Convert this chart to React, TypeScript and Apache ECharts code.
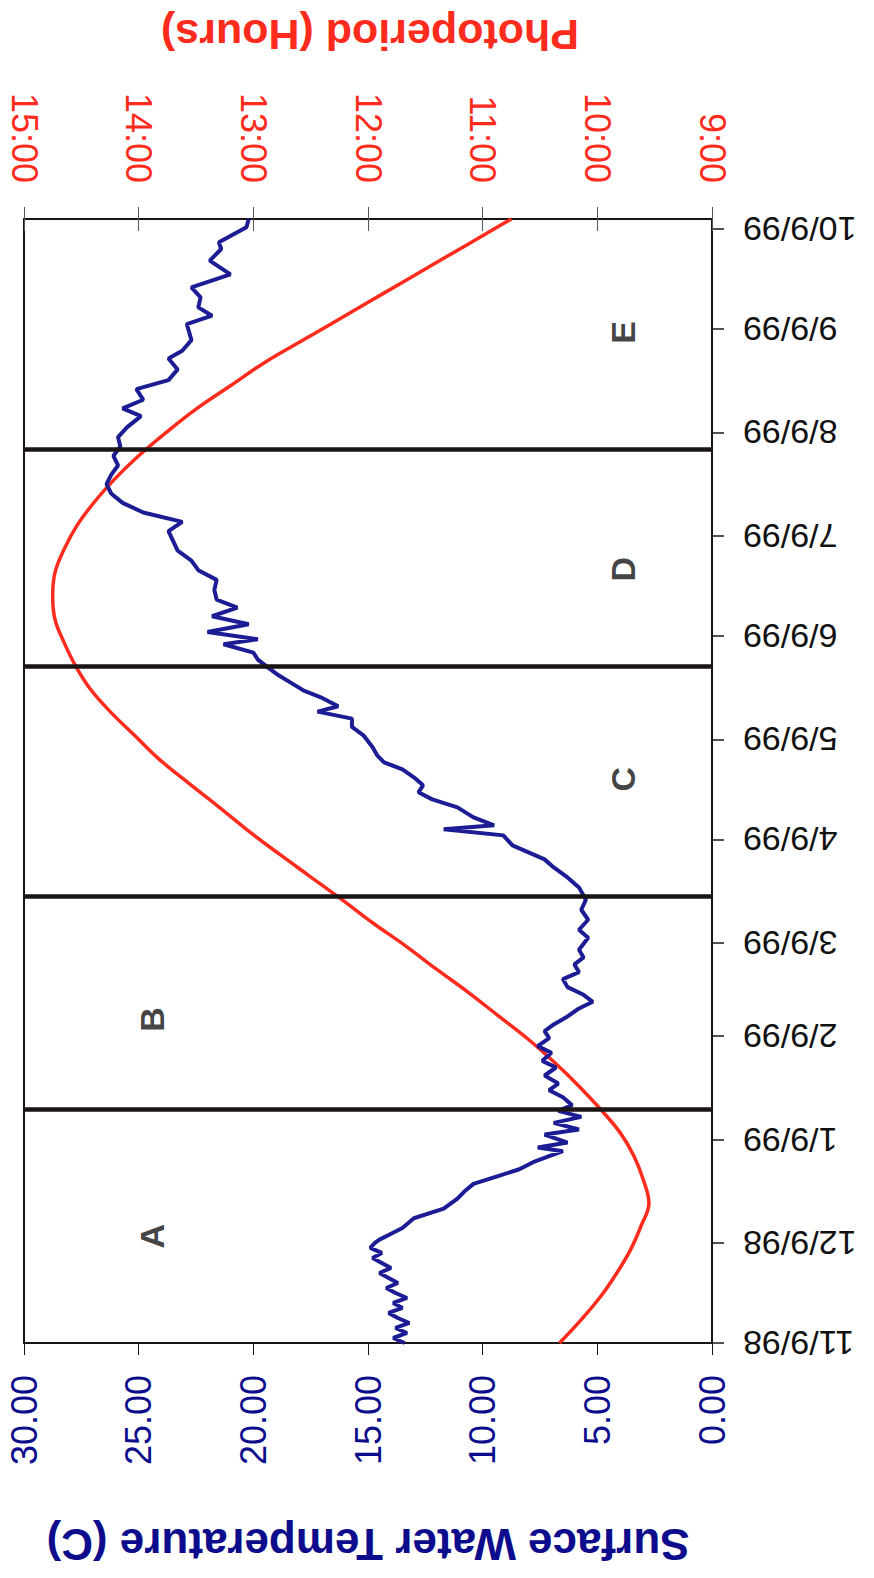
import React, { useEffect, useRef } from "react";
import * as echarts from "echarts";

// Date axis: days counted from 11/9/98, ticks on the 9th of every month
const DATE_TICK_DAYS = [0, 30, 61, 92, 120, 151, 181, 212, 242, 273, 304, 334];
const DATE_TICK_LABELS = [
  "11/9/98", "12/9/98", "1/9/99", "2/9/99", "3/9/99", "4/9/99",
  "5/9/99", "6/9/99", "7/9/99", "8/9/99", "9/9/99", "10/9/99",
];
const LAST_DAY = 337;

// Period boundaries (days) and period letters
const PERIOD_BOUNDARY_DAYS = [70, 134, 203, 268];
const PERIOD_LETTERS = ["A", "B", "C", "D", "E"];
const LETTER_DAYS = [32, 97, 169, 232, 303];
const LETTER_TEMPS = [24.4, 24.4, 3.9, 3.9, 3.9];

// Surface water temperature (C)
const TEMP_DAYS = [
  0, 1.5, 3, 4.5, 6, 7.5, 9, 10.5, 12, 13.5, 15, 16.5, 18, 19.5, 21, 22.5, 24, 25.5, 27, 28.5,
  30, 31, 32.4, 34.5, 37.4, 40.3, 43.3, 45.4, 47.7, 50.1, 52.1, 54.2, 56, 57.5, 58.6, 60.1,
  62.5, 64, 66, 67.8, 69.6, 71.3, 73.7, 75.8, 77.8, 80.2, 82.6, 84.6, 87, 89, 91.4,
  93.5, 95.5, 97.9, 100.3, 102.3, 104.4, 106.7, 109.1, 111.2, 113.5, 115.6, 117.9,
  121.5, 123.9, 126.9, 129.9, 132.9, 136.6, 139.6, 142.6, 145, 147.1, 149.2,
  152.2, 154, 155.2, 157.6, 160.6, 163, 165.1, 167.2, 169.6, 172, 174.1, 176.2, 178.6,
  182.2, 184.7, 187.2, 189.3, 190.9, 193.4, 195.6, 197.7, 200.2, 202.7, 204.9, 207, 209.5,
  211, 213.2, 215.5, 217.9, 220.5, 222.9, 225.8, 228.8, 231.7, 234.6, 237.6, 240.5,
  243.4, 246.2, 249, 251.9, 254.7, 257.5, 260.3, 263.1, 266, 268.8, 271.6,
  274.6, 277.9, 280.2, 282.8, 286, 288.7, 291.9, 295.2, 297.5, 300.7,
  305.5, 308, 310.5, 313.5, 316.5, 320.4, 324.5, 328, 330, 334.5, 337,
];
const TEMP_VALUES = [
  13.4, 13.9, 13.3, 13.8, 13.2, 13.7, 14.1, 13.5, 13.9, 13.3, 13.8, 14.2, 13.7, 14.1, 14.5, 14.0, 14.4, 14.8, 14.4, 14.9,
  14.7, 14.5, 14.1, 13.5, 13.0, 11.7, 11.1, 10.8, 10.4, 9.3, 8.4, 7.8, 7.1, 6.5, 7.6, 6.3,
  7.3, 5.8, 6.9, 5.7, 6.7, 6.1, 6.5, 7.1, 6.7, 7.3, 6.8, 7.4, 7.0, 7.6, 7.1,
  7.3, 6.9, 6.3, 5.8, 5.2, 5.6, 6.3, 6.5, 5.8, 6.0, 5.6, 5.8,
  5.4, 5.8, 5.4, 5.7, 5.5, 5.8, 6.3, 6.9, 7.3, 8.0, 8.7,
  9.1, 11.7, 9.5, 10.4, 11.1, 12.2, 12.8, 12.6, 13.0, 13.5, 14.3, 14.6, 14.8,
  15.2, 15.7, 15.7, 17.2, 16.3, 17.0, 17.8, 18.3, 18.9, 19.4, 19.8, 20.0, 21.3,
  19.8, 22.0, 20.2, 21.8, 20.7, 21.6, 21.7, 21.6, 22.4, 22.7, 23.3, 23.5,
  23.7, 23.1, 24.8, 25.7, 26.2, 26.4, 26.2, 25.9, 26.1, 25.8, 25.9,
  25.5, 24.9, 25.7, 24.8, 25.1, 23.7, 23.3, 23.7, 23.1, 22.7,
  22.9, 21.8, 22.4, 22.3, 22.7, 21.0, 21.9, 21.4, 21.5, 20.3, 20.2,
];

// Photoperiod (hours of daylight), weekly
const PHOTO_DAYS = [
  0, 7, 14, 21, 28, 35, 42, 49, 56, 63, 70, 77, 84, 91, 98, 105, 112, 119, 126, 133,
  140, 147, 154, 161, 168, 175, 182, 189, 196, 203, 210, 217, 224, 231, 238, 245, 252,
  259, 266, 273, 280, 287, 294, 301, 308, 315, 322, 329, 336, 337,
];
const PHOTO_HOURS = [
  10.33, 10.14, 9.97, 9.83, 9.71, 9.62, 9.55, 9.6, 9.68, 9.8, 9.97, 10.16, 10.37, 10.6, 10.86, 11.12, 11.4, 11.67, 11.96, 12.23,
  12.51, 12.79, 13.06, 13.31, 13.57, 13.82, 14.03, 14.24, 14.42, 14.55, 14.65, 14.73, 14.75, 14.73, 14.65, 14.54, 14.39,
  14.21, 14.0, 13.76, 13.5, 13.2, 12.9, 12.55, 12.2, 11.85, 11.5, 11.15, 10.8, 10.75,
];

const FONT = "'Liberation Sans', Arial, Helvetica, sans-serif";
const BLUE = "#1c1c94";
const BLUE_TEXT = "#0c0c8c";
const RED = "#ff2b1c";
const INK = "#1a1414";

export default function App() {
  const ref = useRef<HTMLDivElement>(null);

  useEffect(() => {
    if (!ref.current) return;
    const chart = echarts.init(ref.current, null, { renderer: "svg" });

    const tempData = TEMP_DAYS.map((d, i) => [TEMP_VALUES[i], d]);
    const photoData = PHOTO_DAYS.map((d, i) => [PHOTO_HOURS[i], d]);
    const letterData = PERIOD_LETTERS.map((l, i) => ({
      value: [LETTER_TEMPS[i], LETTER_DAYS[i]],
      name: l,
    }));

    chart.setOption({
      animation: false,
      backgroundColor: "#ffffff",
      textStyle: { fontFamily: FONT },
      grid: {
        left: 24,
        right: 162,
        top: 219,
        bottom: 235,
        show: true,
        borderColor: INK,
        borderWidth: 2,
        containLabel: false,
        outerBoundsMode: "none",
      },
      xAxis: [
        {
          type: "value",
          position: "bottom",
          min: 0,
          max: 30,
          interval: 5,
          inverse: true,
          splitLine: { show: false },
          axisLine: { show: true, lineStyle: { color: INK, width: 2 } },
          axisTick: { show: true, length: 12, lineStyle: { color: INK, width: 1 } },
          axisLabel: {
            rotate: 90,
            margin: 32,
            color: BLUE_TEXT,
            fontSize: 36,
            fontFamily: FONT,
            formatter: (v: number) => v.toFixed(2),
          },
        },
        {
          type: "value",
          position: "top",
          min: 9,
          max: 15,
          interval: 1,
          inverse: true,
          splitLine: { show: false },
          axisLine: { show: true, lineStyle: { color: INK, width: 2 } },
          axisTick: { show: true, length: 12, lineStyle: { color: "#555", width: 1 } },
          axisLabel: {
            rotate: 90,
            margin: 36,
            color: RED,
            fontSize: 36,
            fontFamily: FONT,
            formatter: (v: number) => `${v}:00`,
          },
        },
        {
          // inner half of the photoperiod ticks
          type: "value",
          position: "top",
          min: 9,
          max: 15,
          interval: 1,
          inverse: true,
          splitLine: { show: false },
          axisLine: { show: false },
          axisTick: { show: true, inside: true, length: 12, lineStyle: { color: "#555", width: 1 } },
          axisLabel: { show: false },
        },
      ],
      yAxis: [
        {
          type: "value",
          position: "right",
          min: 0,
          max: LAST_DAY,
          splitLine: { show: false },
          axisLine: { show: true, lineStyle: { color: INK, width: 2 } },
          axisTick: {
            show: true,
            length: 12,
            customValues: DATE_TICK_DAYS,
            lineStyle: { color: INK, width: 1.5 },
          },
          axisLabel: {
            rotate: 180,
            margin: 31,
            color: "#111111",
            fontSize: 34,
            fontFamily: FONT,
            customValues: DATE_TICK_DAYS,
            formatter: (v: number) => {
              const i = DATE_TICK_DAYS.indexOf(v);
              return i >= 0 ? DATE_TICK_LABELS[i] : "";
            },
          },
        },
      ],
      graphic: [
        {
          type: "text",
          x: 370,
          y: 35,
          rotation: Math.PI,
          style: {
            text: "Photoperiod (Hours)",
            fill: RED,
            fontSize: 43,
            fontWeight: "bold",
            fontFamily: FONT,
            align: "center",
            verticalAlign: "middle",
          },
        },
        {
          type: "text",
          x: 368,
          y: 1544,
          rotation: Math.PI,
          style: {
            text: "Surface Water Temperature (C)",
            fill: BLUE_TEXT,
            fontSize: 44,
            fontWeight: "bold",
            fontFamily: FONT,
            align: "center",
            verticalAlign: "middle",
          },
        },
      ],
      series: [
        {
          name: "Photoperiod",
          type: "line",
          xAxisIndex: 1,
          yAxisIndex: 0,
          data: photoData,
          showSymbol: false,
          symbol: "none",
          smooth: 0.4,
          lineStyle: { color: RED, width: 3.5 },
          z: 3,
        },
        {
          name: "Surface Water Temperature",
          type: "line",
          xAxisIndex: 0,
          yAxisIndex: 0,
          data: tempData,
          showSymbol: false,
          symbol: "none",
          lineStyle: { color: BLUE, width: 4 },
          z: 4,
          markLine: {
            silent: true,
            symbol: "none",
            label: { show: false },
            lineStyle: { color: INK, width: 4.5, type: "solid" },
            data: PERIOD_BOUNDARY_DAYS.map((d) => ({ yAxis: d })),
          },
        },
        {
          name: "Periods",
          type: "scatter",
          xAxisIndex: 0,
          yAxisIndex: 0,
          data: letterData,
          symbolSize: 1,
          itemStyle: { color: "rgba(0,0,0,0)" },
          label: {
            show: true,
            position: "inside",
            rotate: 90,
            formatter: (p: any) => p.name,
            color: "#111111",
            fontSize: 34,
            fontWeight: "bold",
            fontFamily: FONT,
          },
          z: 5,
        },
      ],
    });

    return () => chart.dispose();
  }, []);

  return (
    <div
      ref={ref}
      style={{ position: "absolute", left: 0, top: 0, width: 874, height: 1578, background: "#fff" }}
    />
  );
}
